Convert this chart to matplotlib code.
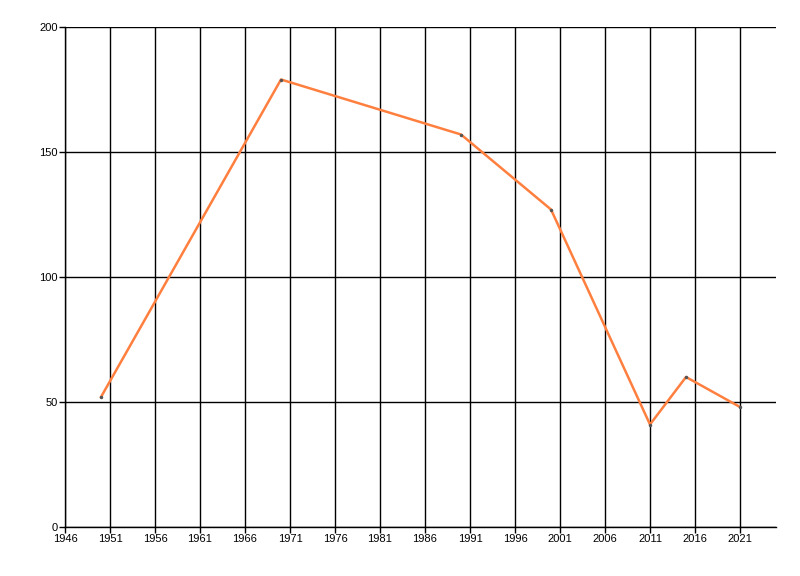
import matplotlib
matplotlib.use("Agg")
import matplotlib.pyplot as plt

plt.rcParams['font.family'] = ['Liberation Sans', 'DejaVu Sans']

years = [1950, 1970, 1990, 2000, 2011, 2015, 2021]
values = [52, 179, 157, 127, 41, 60, 48]
xticks = list(range(1946, 2022, 5))
yticks = [0, 50, 100, 150, 200]

fig = plt.figure(figsize=(8, 5.76), dpi=100)
ax = fig.add_axes([65/800, 1-527/576, (776-65)/800, (527-27)/576])
ax.set_xlim(1946, 2025)
ax.set_ylim(0, 200)
ax.set_xticks(xticks)
ax.set_yticks(yticks)
ax.set_xticklabels([str(t) for t in xticks])
ax.grid(True, color="black", linewidth=1)
ax.set_axisbelow(True)
for s in ["top", "right"]:
    ax.spines[s].set_visible(False)
for s in ["left", "bottom"]:
    ax.spines[s].set_color("black")
    ax.spines[s].set_linewidth(1)
ax.tick_params(axis="both", length=4, width=1, color="black", labelsize=8, pad=1)
ax.plot(years, values, color="#FF7F3F", linewidth=1.8, zorder=3)
ax.plot(years, values, linestyle="none", marker="o", markersize=1.5, color="#555555", zorder=4)
fig.savefig("out.png", dpi=100)
